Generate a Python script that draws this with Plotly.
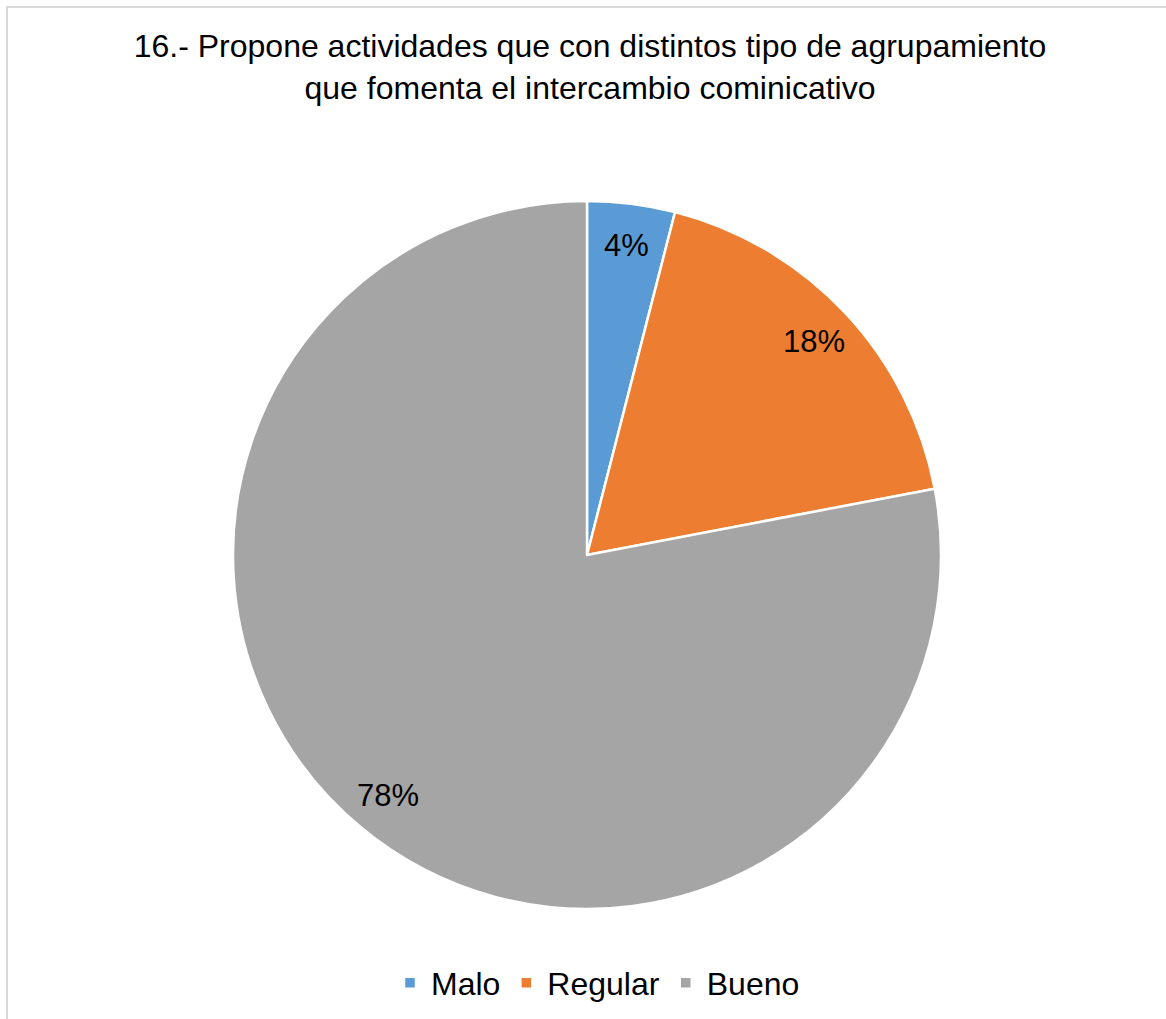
import numpy as np
import plotly.graph_objects as go

# datos
categorias = ["Malo", "Regular", "Bueno"]
valores = [4, 18, 78]
colores = ["#5B9BD5", "#ED7D31", "#A5A5A5"]

titulo = ("16.- Propone actividades que con distintos tipo de agrupamiento"
          "<br>que fomenta el intercambio cominicativo")

W, H = 1166, 1019
# centro y radio del pastel (pixeles)
cx, cy, r = 587, 555, 354

fig = go.Figure()
fig.add_trace(go.Pie(labels=categorias, values=valores, sort=False,
                     direction="clockwise", rotation=0,
                     marker=dict(colors=colores, line=dict(color="white", width=2.5)),
                     textinfo="none", hoverinfo="label+percent",
                     domain=dict(x=[(cx - r) / W, (cx + r) / W],
                                 y=[1 - (cy + r) / H, 1 - (cy - r) / H])))

# etiquetas de porcentaje en el centro angular de cada rebanada
total = sum(valores)
acum = np.cumsum([0] + valores)
anot = []
for i, v in enumerate(valores):
    ang = np.deg2rad((acum[i] + v / 2) / total * 360)
    d = 0.88 * r
    px = cx + d * np.sin(ang)
    py = cy - d * np.cos(ang)
    anot.append(dict(x=px / W, y=1 - py / H, xref="paper", yref="paper",
                     xanchor="center", yanchor="middle",
                     text=f"{round(v / total * 100)}%", showarrow=False,
                     font=dict(size=31, color="black")))

fig.update_layout(
    width=W, height=H,
    margin=dict(l=0, r=0, t=0, b=0),
    paper_bgcolor="white", plot_bgcolor="white",
    font=dict(family="Liberation Sans, Arial", color="black"),
    title=dict(text=titulo, x=590 / W, xanchor="center",
               y=1 - 57 / H, yanchor="middle",
               font=dict(size=32, color="black")),
    legend=dict(orientation="h", x=597 / W, xanchor="center",
                y=1 - 983 / H, yanchor="middle",
                font=dict(size=32, color="black"), itemwidth=32),
    annotations=anot,
    shapes=[dict(type="rect", xref="paper", yref="paper",
                 x0=7 / W, y0=-0.05, x1=1.05, y1=1 - 7 / H,
                 line=dict(color="#D9D9D9", width=2))],
)

# quitar el margen del body para que la figura llene la ventana
fig.write_html("out.html", config={"displayModeBar": False},
               post_script="document.body.style.margin='0';")
